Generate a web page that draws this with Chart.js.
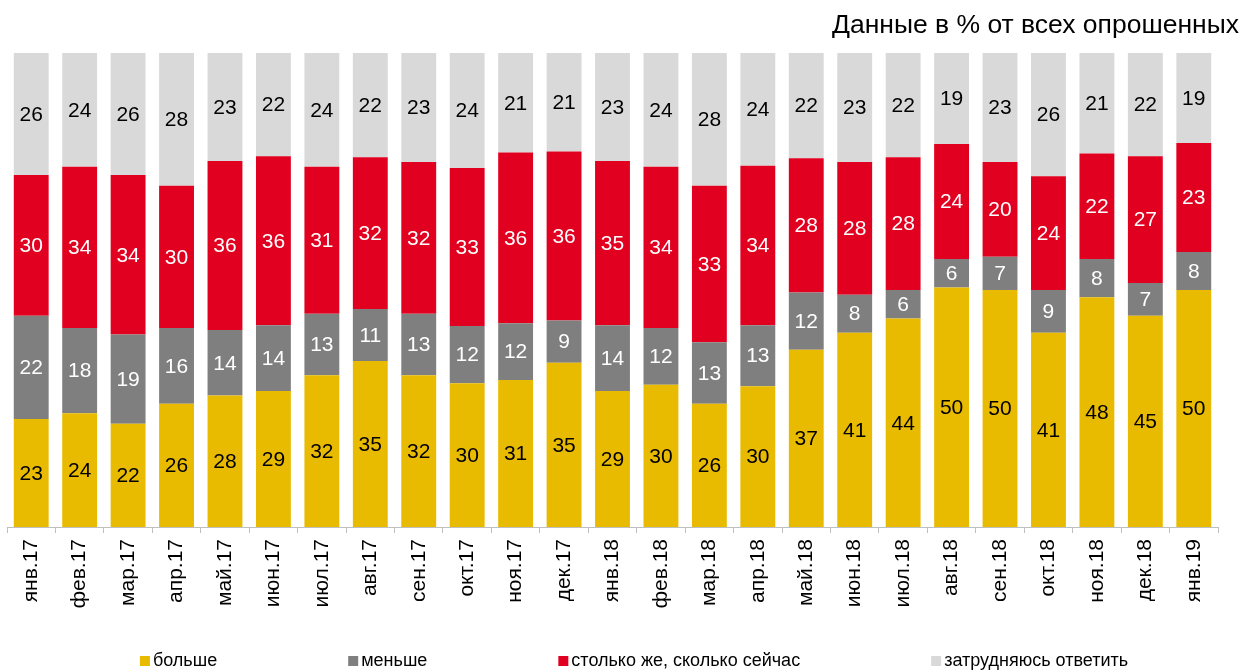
<!DOCTYPE html>
<html>
<head>
<meta charset="utf-8">
<script src="https://cdn.jsdelivr.net/npm/chart.js@4/dist/chart.umd.min.js"></script>
<style>
  html, body { margin: 0; padding: 0; background: #fff; }
  #wrap { width: 1244px; height: 671px; }
</style>
</head>
<body>
<div id="wrap"><canvas id="chart" width="1244" height="671"></canvas></div>
<script>
const months = ['янв.17', 'фев.17', 'мар.17', 'апр.17', 'май.17', 'июн.17', 'июл.17', 'авг.17', 'сен.17',
  'окт.17', 'ноя.17', 'дек.17', 'янв.18', 'фев.18', 'мар.18', 'апр.18', 'май.18', 'июн.18', 'июл.18',
  'авг.18', 'сен.18', 'окт.18', 'ноя.18', 'дек.18', 'янв.19'];
const more = [23, 24, 22, 26, 28, 29, 32, 35, 32, 30, 31, 35, 29, 30, 26, 30, 37, 41, 44, 50, 50, 41, 48, 45, 50];
const less = [22, 18, 19, 16, 14, 14, 13, 11, 13, 12, 12, 9, 14, 12, 13, 13, 12, 8, 6, 6, 7, 9, 8, 7, 8];
const same = [30, 34, 34, 30, 36, 36, 31, 32, 32, 33, 36, 36, 35, 34, 33, 34, 28, 28, 28, 24, 20, 24, 22, 27, 23];
const unsure = [26, 24, 26, 28, 23, 22, 24, 22, 23, 24, 21, 21, 23, 24, 28, 24, 22, 23, 22, 19, 23, 26, 21, 22, 19];

const titleText = 'Данные в % от всех опрошенных';
const FONT = '"Liberation Sans", Arial, sans-serif';

// bars are shown as 100% stacks, labels keep the survey numbers
const totals = months.map((m, i) => more[i] + less[i] + same[i] + unsure[i]);
const share = arr => arr.map((v, i) => v / totals[i] * 100);

const series = [
  { label: 'больше', raw: more, color: '#E9BB00', text: '#000' },
  { label: 'меньше', raw: less, color: '#7F7F7F', text: '#fff' },
  { label: 'столько же, сколько сейчас', raw: same, color: '#E1001F', text: '#fff' },
  { label: 'затрудняюсь ответить', raw: unsure, color: '#D9D9D9', text: '#000' }
];

const valueLabels = {
  id: 'valueLabels',
  afterDatasetsDraw(chart) {
    const ctx = chart.ctx;
    ctx.save();
    ctx.font = '21px ' + FONT;
    ctx.textAlign = 'center';
    ctx.textBaseline = 'middle';
    chart.data.datasets.forEach((ds, di) => {
      const meta = chart.getDatasetMeta(di);
      meta.data.forEach((bar, i) => {
        const { x, y, base } = bar.getProps(['x', 'y', 'base'], true);
        ctx.fillStyle = series[di].text;
        ctx.fillText(String(ds.raw[i]), x, (y + base) / 2 + 1);
      });
    });
    ctx.restore();
  }
};

const decor = {
  id: 'decor',
  afterDraw(chart) {
    const ctx = chart.ctx;
    ctx.save();
    // title, top right
    ctx.font = '26.5px ' + FONT;
    ctx.fillStyle = '#000';
    ctx.textAlign = 'right';
    ctx.textBaseline = 'alphabetic';
    ctx.fillText(titleText, 1239, 33);
    // legend along the bottom
    ctx.font = '18px ' + FONT;
    ctx.textAlign = 'left';
    ctx.textBaseline = 'middle';
    const box = 10, gap = 3, spacing = 131;
    const widths = series.map(s => box + gap + ctx.measureText(s.label).width);
    const total = widths.reduce((a, b) => a + b, 0) + spacing * (series.length - 1);
    let x = 634 - total / 2;
    const yMid = 661;
    series.forEach((s, i) => {
      ctx.fillStyle = s.color;
      ctx.fillRect(x, yMid - box / 2, box, box);
      ctx.fillStyle = '#000';
      ctx.fillText(s.label, x + box + gap, yMid);
      x += widths[i] + spacing;
    });
    ctx.restore();
  }
};

new Chart(document.getElementById('chart'), {
  type: 'bar',
  data: {
    labels: months,
    datasets: series.map(s => ({
      label: s.label,
      data: share(s.raw),
      raw: s.raw,
      backgroundColor: s.color,
      borderWidth: 0,
      barPercentage: 0.72,
      categoryPercentage: 1
    }))
  },
  options: {
    responsive: false,
    animation: false,
    layout: { padding: { top: 53, left: 7, right: 26, bottom: 0 } },
    plugins: {
      legend: { display: false },
      title: { display: false },
      tooltip: { enabled: false }
    },
    scales: {
      x: {
        stacked: true,
        afterFit: s => { s.height = 144; },
        grid: {
          display: true,
          drawOnChartArea: false,
          drawTicks: true,
          tickLength: 6,
          color: '#BFBFBF',
          offset: true
        },
        border: { display: true, color: '#BFBFBF' },
        ticks: {
          color: '#000',
          font: { family: FONT, size: 21 },
          minRotation: 90,
          maxRotation: 90,
          padding: 6,
          autoSkip: false
        }
      },
      y: {
        stacked: true,
        display: false,
        min: 0,
        max: 100
      }
    }
  },
  plugins: [valueLabels, decor]
});
</script>
</body>
</html>
